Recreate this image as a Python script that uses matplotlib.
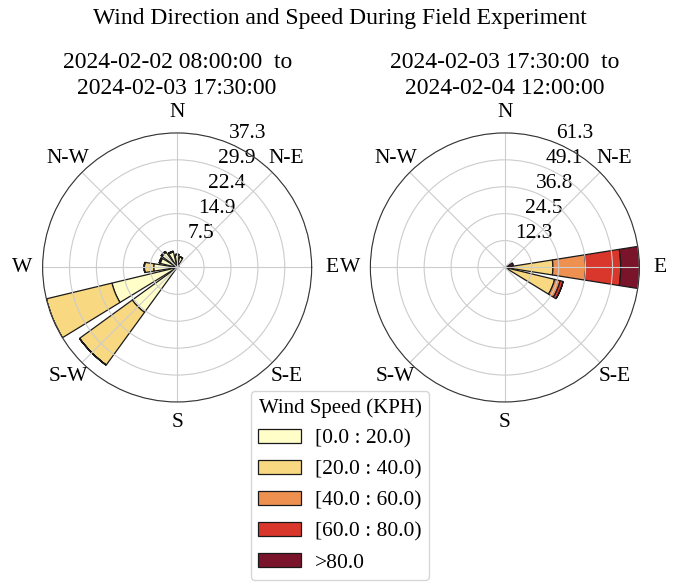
import numpy as np
import matplotlib
matplotlib.use("Agg")
import matplotlib.pyplot as plt

plt.rcParams['font.family'] = ['Liberation Serif', 'DejaVu Serif']

# 16 sectors, clockwise from North (direction the wind comes from)
directions = ["N", "NNE", "NE", "ENE", "E", "ESE", "SE", "SSE",
              "S", "SSW", "SW", "WSW", "W", "WNW", "NW", "NNW"]
speed_labels = ["[0.0 : 20.0)", "[20.0 : 40.0)", "[40.0 : 60.0)", "[60.0 : 80.0)", ">80.0"]

# frequency (%) per speed bin, first period
left_0_20 = [3.6, 3.0, 0.8, 0, 0, 0, 0, 0, 0, 0, 15.4, 18.6, 6.5, 4.8, 5.2, 4.4]
left_20_40 = [0, 0, 0, 0, 0, 0, 0, 0, 0, 0, 18.1, 18.74, 2.6, 0.3, 0.3, 0.2]
left_40_60 = [0] * 16
left_60_80 = [0] * 16
left_80_up = [0] * 16

# second period
right_0_20 = [0, 0, 0, 0.2, 0.5, 0.3, 0, 0, 0, 0, 0, 0, 0, 0, 0, 0]
right_20_40 = [0, 0, 0, 0.4, 21.4, 23.0, 0, 0, 0, 0, 0, 0, 0, 0, 0, 0]
right_40_60 = [0, 0, 0, 0.4, 14.9, 2.6, 0, 0, 0, 0, 0, 0, 0, 0, 0, 0]
right_60_80 = [0, 0, 0, 0.8, 16.0, 1.4, 0, 0, 0, 0, 0, 0, 0, 0, 0, 0]
right_80_up = [0, 0, 0, 2.2, 8.54, 0, 0, 0, 0, 0, 0, 0, 0, 0, 0, 0]

titles = ["2024-02-02 08:00:00  to\n2024-02-03 17:30:00",
          "2024-02-03 17:30:00  to\n2024-02-04 12:00:00"]

# YlOrRd-like, as seen in the picture
colors = ["#fffdc8", "#f8d880", "#ee9150", "#d9372c", "#79142a"]

fig = plt.figure(figsize=(6.8, 5.83), dpi=100)
fig.suptitle("Wind Direction and Speed During Field Experiment", fontsize=17, y=0.968, va="center")

tables = [[left_0_20, left_20_40, left_40_60, left_60_80, left_80_up],
          [right_0_20, right_20_40, right_40_60, right_60_80, right_80_up]]
rects = [[0.0625, 0.3105, 0.396, 0.4615], [0.5445, 0.3105, 0.396, 0.4615]]

nsector = len(directions)
angles = np.pi / 2 - np.arange(nsector) * 2 * np.pi / nsector
opening = 0.8 * 2 * np.pi / nsector

for k in range(2):
    ax = fig.add_axes(rects[k], projection="polar")
    table = np.array(tables[k], dtype=float)
    offset = np.zeros(nsector)
    for i in range(5):
        ax.bar(angles, table[i], width=opening, bottom=offset, color=colors[i],
               edgecolor="#1a1a1a", linewidth=0.9, label=speed_labels[i])
        offset = offset + table[i]
    rmax = offset.max()
    ax.set_rmax(rmax)
    ax.set_rmin(0)
    radii = np.linspace(0, rmax, 6)[1:]
    ax.set_rgrids(radii, ["%.1f" % r for r in radii], angle=67.5, fontsize=15.5)
    ax.set_thetagrids(np.arange(0, 360, 45),
                      ["E", "N-E", "N", "N-W", "W", "S-W", "S", "S-E"], fontsize=15.5)
    ax.tick_params(axis="x", pad=4)
    ax.grid(color="#cccccc", linewidth=0.8)
    ax.spines["polar"].set_color("#333333")
    ax.spines["polar"].set_linewidth(0.8)
    ax.text(0.5, 1.214, titles[k], transform=ax.transAxes, ha="center", va="center",
            fontsize=17, linespacing=1.32)
    if k == 0:
        handles, labels = ax.get_legend_handles_labels()

fig.legend(handles, labels, title="Wind Speed (KPH)", loc="lower center",
           bbox_to_anchor=(0.5, 0.005), borderaxespad=0, fontsize=15.5, title_fontsize=15,
           handlelength=2.0, handleheight=0.65, handletextpad=0.65, labelspacing=0.52,
           borderpad=0.35)

fig.savefig("out.png", dpi=100)
